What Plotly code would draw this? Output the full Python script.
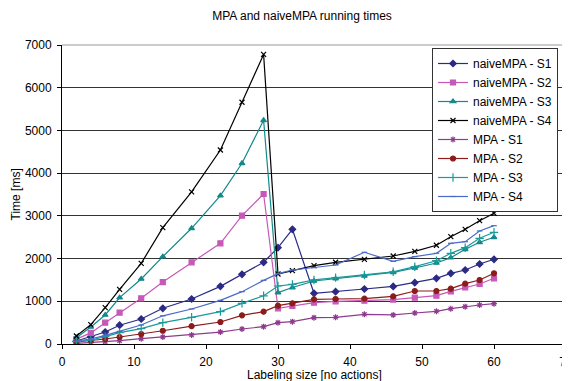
import plotly.graph_objects as go

x_vals = [2, 4, 6, 8, 11, 14, 18, 22, 25, 28, 30, 32, 35, 38, 42, 46, 49, 52, 54, 56, 58, 60]

naive_s1 = [70, 170, 280, 440, 585, 836, 1054, 1350, 1632, 1913, 2255, 2685, 1187, 1225, 1288, 1347, 1436, 1538, 1655, 1733, 1873, 1983]
naive_s2 = [115, 260, 499, 735, 1070, 1450, 1913, 2358, 3004, 3512, 836, 890, 967, 1000, 1015, 1040, 1084, 1131, 1233, 1327, 1405, 1538]
naive_s3 = [148, 398, 679, 1085, 1522, 2045, 2709, 3473, 4231, 5237, 1202, 1322, 1475, 1530, 1592, 1675, 1779, 1896, 2021, 2217, 2381, 2498]
naive_s4 = [187, 452, 850, 1280, 1889, 2723, 3560, 4542, 5659, 6780, 1639, 1717, 1833, 1913, 1983, 2060, 2170, 2311, 2513, 2685, 2887, 3060]
mpa_s1 = [16, 31, 55, 78, 125, 164, 211, 280, 351, 406, 500, 523, 617, 625, 695, 680, 726, 765, 827, 874, 913, 944]
mpa_s2 = [47, 78, 117, 164, 234, 310, 418, 515, 671, 757, 897, 952, 1046, 1054, 1061, 1116, 1241, 1241, 1295, 1413, 1498, 1655]
mpa_s3 = [55, 94, 172, 265, 359, 500, 625, 757, 952, 1128, 1358, 1397, 1500, 1555, 1615, 1690, 1810, 1950, 2123, 2255, 2475, 2615]
mpa_s4 = [70, 117, 203, 296, 445, 660, 820, 1022, 1225, 1490, 1647, 1733, 1787, 1850, 2147, 1935, 2045, 2123, 2358, 2395, 2646, 2770]

series = [
    ("naiveMPA - S1", naive_s1, "#2B2B85", "diamond", 5),
    ("naiveMPA - S2", naive_s2, "#C658B8", "square", 5),
    ("naiveMPA - S3", naive_s3, "#14888A", "triangle-up", 5),
    ("naiveMPA - S4", naive_s4, "#000000", "x-thin-open", 5),
    ("MPA - S1", mpa_s1, "#8E3A8E", "asterisk-open", 5),
    ("MPA - S2", mpa_s2, "#8B1C1C", "circle", 5),
    ("MPA - S3", mpa_s3, "#1A9A9A", "cross-thin-open", 6),
    ("MPA - S4", mpa_s4, "#4A6BC8", "line-ew-open", 4),
]

fig = go.Figure()
for name, ys, color, sym, size in series:
    fig.add_trace(go.Scatter(
        x=x_vals, y=ys, name=name, mode="lines+markers",
        line=dict(color=color, width=1.2),
        marker=dict(symbol=sym, size=size, color=color, line=dict(color=color, width=1.2)),
    ))

# page body has an 8px default margin: figure coords = picture coords - 8
W, H = 562, 373
font_fam = "Liberation Sans, Arial, Helvetica, sans-serif"
fig.update_layout(
    width=W, height=H,
    margin=dict(l=54, r=4, t=37, b=37, autoexpand=False),
    paper_bgcolor="white", plot_bgcolor="white",
    font=dict(family=font_fam, size=12, color="#000"),
    title=dict(text="MPA and naiveMPA running times", x=294 / W, xanchor="center",
               xref="container", y=1 - 8 / H, yref="container", yanchor="middle",
               font=dict(size=12, family=font_fam)),
    showlegend=True,
    legend=dict(x=(432 - 62) / 504, y=(344 - 48) / 299, xanchor="left", yanchor="top",
                bgcolor="white", bordercolor="#333", borderwidth=1,
                font=dict(size=12, family=font_fam), tracegroupgap=0,
                itemwidth=30),
    annotations=[
        dict(text="Labeling size [no actions]", xref="paper", yref="paper",
             x=0.5, y=-31 / 299, xanchor="center", yanchor="middle", showarrow=False,
             font=dict(size=12)),
        dict(text="Time [ms]", xref="paper", yref="paper", textangle=-90,
             x=-47 / 504, y=0.5, xanchor="center", yanchor="middle", showarrow=False,
             font=dict(size=12)),
    ],
)
fig.update_xaxes(
    range=[0, 70], dtick=10, tick0=0, automargin=False,
    showline=True, linecolor="#000", linewidth=1, mirror=False,
    ticks="outside", ticklen=4, tickcolor="#000", ticklabelstandoff=3,
    ticklabeloverflow="allow",
    showgrid=False, zeroline=False,
)
fig.update_yaxes(
    range=[0, 7000], dtick=1000, tick0=0, automargin=False,
    showline=True, linecolor="#000", linewidth=1,
    ticks="outside", ticklen=4, tickcolor="#000", ticklabelstandoff=3,
    showgrid=True, gridcolor="#333", gridwidth=1, zeroline=False,
)
# right/top border in gray
fig.add_shape(type="line", xref="paper", yref="paper", x0=1, x1=1, y0=0, y1=1,
              line=dict(color="#999", width=1))
fig.add_shape(type="line", xref="paper", yref="paper", x0=0, x1=1, y0=1, y1=1,
              line=dict(color="#999", width=1))

fig.write_html("out.html")
